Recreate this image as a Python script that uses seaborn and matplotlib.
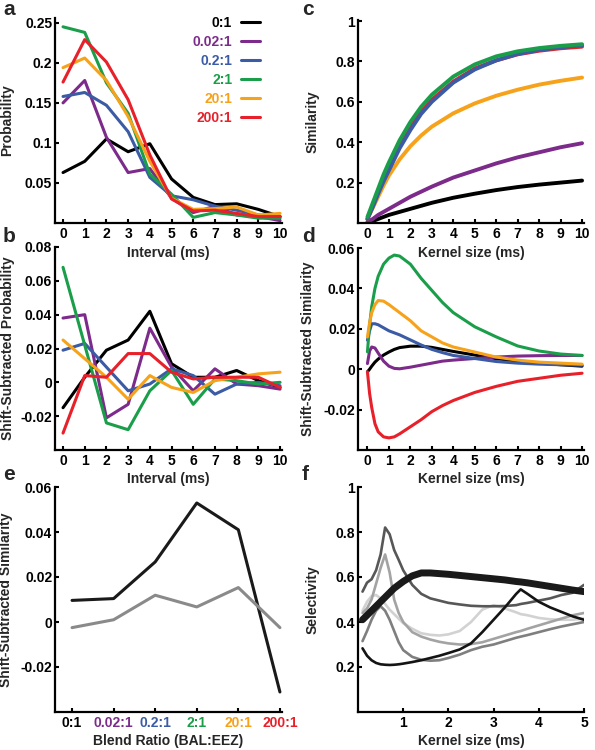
#!/usr/bin/env python

import matplotlib
matplotlib.use('Agg')
import matplotlib.pyplot as plt
import seaborn as sns

# Blend ratios (BAL:EEZ) and their colours
RATIOS = ['0:1', '0.02:1', '0.2:1', '2:1', '20:1', '200:1']
RATIO_COLORS = ['#000000', '#7d2b8b', '#3b5ba5', '#1a9e4a', '#f7a21b', '#e8202a']

# a: interval probability
INTERVALS = [0, 1, 2, 3, 4, 5, 6, 7, 8, 9, 10]
PROB_0 = [0.063, 0.077, 0.105, 0.089, 0.099, 0.055, 0.032, 0.023, 0.024, 0.017, 0.008]
PROB_002 = [0.150, 0.178, 0.107, 0.063, 0.068, 0.031, 0.013, 0.021, 0.010, 0.008, 0.003]
PROB_02 = [0.158, 0.163, 0.147, 0.114, 0.057, 0.034, 0.029, 0.021, 0.016, 0.010, 0.008]
PROB_2 = [0.245, 0.238, 0.175, 0.137, 0.061, 0.036, 0.007, 0.013, 0.010, 0.006, 0.006]
PROB_20 = [0.194, 0.206, 0.178, 0.133, 0.077, 0.031, 0.017, 0.018, 0.020, 0.010, 0.012]
PROB_200 = [0.176, 0.229, 0.201, 0.154, 0.085, 0.030, 0.015, 0.016, 0.012, 0.008, 0.008]

# b: shift-subtracted probability
SSP_0 = [-0.015, 0.003, 0.019, 0.025, 0.042, 0.011, 0.003, 0.003, 0.007, 0.001, -0.003]
SSP_002 = [0.038, 0.040, -0.021, -0.013, 0.032, 0.009, -0.005, 0.008, -0.001, -0.002, -0.004]
SSP_02 = [0.019, 0.023, 0.009, -0.005, -0.001, 0.008, 0.004, -0.007, -0.001, 0.000, -0.002]
SSP_2 = [0.068, 0.022, -0.024, -0.028, -0.005, 0.007, -0.013, 0.002, 0.001, -0.001, 0.000]
SSP_20 = [0.025, 0.014, 0.003, -0.010, 0.004, -0.003, -0.006, 0.001, 0.003, 0.005, 0.006]
SSP_200 = [-0.030, 0.004, 0.003, 0.017, 0.017, 0.006, 0.002, 0.003, 0.003, 0.003, -0.003]

# c: similarity vs kernel size
KERNEL = [0, 0.25, 0.5, 0.75, 1, 1.5, 2, 2.5, 3, 4, 5, 6, 7, 8, 9, 10]
SIM_0 = [0.0, 0.01, 0.02, 0.03, 0.04, 0.055, 0.07, 0.085, 0.10, 0.125, 0.145, 0.163, 0.178, 0.19, 0.20, 0.21]
SIM_002 = [0.005, 0.02, 0.04, 0.055, 0.07, 0.10, 0.13, 0.155, 0.18, 0.225, 0.26, 0.295, 0.325, 0.35, 0.375, 0.395]
SIM_02 = [0.02, 0.08, 0.145, 0.205, 0.26, 0.37, 0.46, 0.54, 0.60, 0.695, 0.76, 0.805, 0.837, 0.857, 0.87, 0.88]
SIM_2 = [0.03, 0.10, 0.17, 0.24, 0.30, 0.41, 0.50, 0.575, 0.635, 0.725, 0.785, 0.825, 0.85, 0.866, 0.877, 0.885]
SIM_20 = [0.02, 0.075, 0.13, 0.185, 0.235, 0.315, 0.38, 0.433, 0.477, 0.543, 0.592, 0.63, 0.66, 0.685, 0.704, 0.72]
SIM_200 = [0.02, 0.085, 0.155, 0.215, 0.275, 0.385, 0.475, 0.55, 0.61, 0.70, 0.765, 0.805, 0.835, 0.853, 0.865, 0.873]

# d: shift-subtracted similarity vs kernel size
KERNEL_D = [0, 0.1, 0.2, 0.35, 0.5, 0.75, 1, 1.25, 1.5, 2, 2.5, 3, 3.5, 4, 5, 6, 7, 8, 9, 10]
SSS_0 = [-0.0013, 0.0, 0.0015, 0.0035, 0.005, 0.007, 0.0085, 0.0098, 0.0107, 0.0114, 0.0114, 0.0108,
         0.0098, 0.0088, 0.007, 0.0052, 0.004, 0.003, 0.0022, 0.0015]
SSS_002 = [0.0028, 0.009, 0.011, 0.0105, 0.008, 0.004, 0.0015, 0.0004, 0.0002, 0.001, 0.002, 0.003,
           0.004, 0.0045, 0.0053, 0.006, 0.0065, 0.0067, 0.0068, 0.0068]
SSS_02 = [0.0144, 0.019, 0.0225, 0.0225, 0.022, 0.0205, 0.019, 0.018, 0.017, 0.0145, 0.012, 0.0098,
          0.0082, 0.0068, 0.0053, 0.0038, 0.003, 0.0025, 0.0022, 0.002]
SSS_2 = [0.0086, 0.022, 0.031, 0.040, 0.046, 0.052, 0.055, 0.0565, 0.056, 0.052, 0.045, 0.039,
         0.033, 0.028, 0.021, 0.016, 0.0115, 0.009, 0.0075, 0.0068]
SSS_20 = [0.016, 0.023, 0.028, 0.032, 0.034, 0.0337, 0.032, 0.030, 0.028, 0.024, 0.019, 0.016,
          0.013, 0.011, 0.0085, 0.006, 0.0045, 0.0035, 0.003, 0.0025]
SSS_200 = [-0.0013, -0.012, -0.019, -0.027, -0.031, -0.0335, -0.034, -0.0335, -0.032, -0.0285, -0.025,
           -0.021, -0.018, -0.0155, -0.0115, -0.0085, -0.006, -0.0045, -0.003, -0.002]

# e: shift-subtracted similarity by blend ratio
BLEND_BLACK = [0.0096, 0.0104, 0.0267, 0.0529, 0.041, -0.0311]
BLEND_GRAY = [-0.0025, 0.001, 0.0119, 0.0067, 0.0153, -0.0025]

# f: selectivity vs kernel size
KERNEL_F = [0.1, 0.2, 0.3, 0.4, 0.5, 0.6, 0.7, 0.8, 0.9, 1.0, 1.2, 1.4, 1.6, 1.8, 2.0, 2.25,
            2.5, 2.75, 3.0, 3.25, 3.5, 3.6, 3.75, 4.0, 4.25, 4.5, 4.75, 5.0]
SEL_THICK = [0.41, 0.43, 0.45, 0.47, 0.49, 0.51, 0.53, 0.55, 0.565, 0.58, 0.605, 0.618, 0.618, 0.615,
             0.612, 0.607, 0.602, 0.597, 0.592, 0.587, 0.58, 0.578, 0.574, 0.566, 0.558, 0.55, 0.542, 0.535]
SEL_DARK = [0.535, 0.575, 0.59, 0.63, 0.70, 0.82, 0.79, 0.72, 0.676, 0.63, 0.565, 0.525, 0.505, 0.495,
            0.485, 0.478, 0.472, 0.47, 0.47, 0.471, 0.475, 0.48, 0.485, 0.495, 0.505, 0.52, 0.53, 0.565]
SEL_MID = [0.44, 0.46, 0.50, 0.57, 0.64, 0.70, 0.62, 0.50, 0.44, 0.40, 0.355, 0.335, 0.322, 0.312,
           0.305, 0.30, 0.302, 0.31, 0.325, 0.34, 0.355, 0.36, 0.37, 0.385, 0.40, 0.415, 0.43, 0.44]
SEL_LIGHT = [0.45, 0.49, 0.515, 0.52, 0.505, 0.48, 0.455, 0.435, 0.415, 0.395, 0.37, 0.35, 0.343, 0.34,
             0.345, 0.36, 0.40, 0.455, 0.475, 0.46, 0.443, 0.435, 0.43, 0.418, 0.412, 0.41, 0.41, 0.415]
SEL_GRAY = [0.315, 0.36, 0.41, 0.45, 0.47, 0.45, 0.41, 0.36, 0.31, 0.275, 0.245, 0.232, 0.228, 0.23,
            0.24, 0.255, 0.275, 0.29, 0.30, 0.315, 0.33, 0.335, 0.342, 0.355, 0.368, 0.38, 0.39, 0.40]
SEL_BLACK = [0.283, 0.25, 0.23, 0.218, 0.212, 0.21, 0.209, 0.21, 0.212, 0.215, 0.222, 0.23, 0.24, 0.25,
             0.262, 0.278, 0.305, 0.355, 0.41, 0.465, 0.525, 0.545, 0.525, 0.49, 0.465, 0.445, 0.425, 0.41]

W, H = 595.0, 750.0
FS = 10


def make_axes(fig, left, right, top, bottom):
    """Add axes from pixel edges."""
    ax = fig.add_axes([left / W, 1 - bottom / H, (right - left) / W, (bottom - top) / H])
    ax.set_facecolor('none')
    sns.despine(ax=ax)
    ax.tick_params(direction='in', length=3, width=1.5, labelsize=FS, pad=3)
    ax.tick_params(axis='y', pad=2)
    return ax


def ratio_lines(ax, x, series, lw, label=False, order=range(6)):
    for i in order:
        sns.lineplot(x=x, y=series[i], color=RATIO_COLORS[i], lw=lw, ax=ax, sort=False,
                     estimator=None, label=RATIOS[i] if label else None)


def main():
    sns.set_style('ticks')
    plt.rcParams['font.family'] = ['Liberation Sans', 'DejaVu Sans']
    plt.rcParams['font.weight'] = 'bold'
    plt.rcParams['axes.labelweight'] = 'bold'
    plt.rcParams['axes.linewidth'] = 1.6
    plt.rcParams['axes.edgecolor'] = 'black'
    plt.rcParams['xtick.color'] = 'black'
    plt.rcParams['ytick.color'] = 'black'

    fig = plt.figure(figsize=(W / 100, H / 100), dpi=100)

    # a
    ax = make_axes(fig, 55, 282, 18, 223)
    ratio_lines(ax, INTERVALS, [PROB_0, PROB_002, PROB_02, PROB_2, PROB_20, PROB_200],
                2.2, label=True)
    ax.set_xlim(-0.37, 10.09)
    ax.set_ylim(0, 0.256)
    ax.set_xticks(INTERVALS)
    ax.set_yticks([0.05, 0.1, 0.15, 0.2, 0.25], ['0.05', '0.1', '0.15', '0.2', '0.25'])
    ax.set_xlabel('Interval (ms)', fontsize=FS)
    ax.set_ylabel('Probability', fontsize=FS)
    ax.xaxis.set_label_coords(0.5, -0.112)
    ax.yaxis.set_label_coords(-0.178, 0.5)
    ax.legend(loc='upper right', bbox_to_anchor=(0.903, 1.01), frameon=False,
              markerfirst=False, labelcolor='linecolor', handlelength=1.4,
              handletextpad=0.6, labelspacing=0.36, borderpad=0, borderaxespad=0,
              prop={'weight': 'bold', 'size': FS})

    # b
    ax = make_axes(fig, 55, 282, 247, 450)
    ratio_lines(ax, INTERVALS, [SSP_0, SSP_002, SSP_02, SSP_2, SSP_20, SSP_200], 2.2)
    ax.set_xlim(-0.37, 10.09)
    ax.set_ylim(-0.04, 0.08)
    ax.set_xticks(INTERVALS)
    ax.set_yticks([-0.02, 0, 0.02, 0.04, 0.06, 0.08],
                  ['-0.02', '0', '0.02', '0.04', '0.06', '0.08'])
    ax.set_xlabel('Interval (ms)', fontsize=FS)
    ax.set_ylabel('Shift-Subtracted Probability', fontsize=FS)
    ax.xaxis.set_label_coords(0.5, -0.108)
    ax.yaxis.set_label_coords(-0.178, 0.5)

    # c
    ax = make_axes(fig, 358, 584, 20, 223)
    ratio_lines(ax, KERNEL, [SIM_0, SIM_002, SIM_02, SIM_2, SIM_20, SIM_200], 2.8,
                order=[0, 1, 4, 5, 2, 3])
    ax.set_xlim(-0.44, 10.09)
    ax.set_ylim(0, 1.005)
    ax.set_xticks(INTERVALS)
    ax.set_yticks([0.2, 0.4, 0.6, 0.8, 1.0], ['0.2', '0.4', '0.6', '0.8', '1'])
    ax.set_xlabel('Kernel size (ms)', fontsize=FS)
    ax.set_ylabel('Similarity', fontsize=FS)
    ax.xaxis.set_label_coords(0.5, -0.112)
    ax.yaxis.set_label_coords(-0.17, 0.5)

    # d
    ax = make_axes(fig, 358, 584, 248, 450)
    ratio_lines(ax, KERNEL_D, [SSS_0, SSS_002, SSS_02, SSS_2, SSS_20, SSS_200], 2.2)
    ax.set_xlim(-0.44, 10.09)
    ax.set_ylim(-0.04, 0.06)
    ax.set_xticks(INTERVALS)
    ax.set_yticks([-0.02, 0, 0.02, 0.04, 0.06], ['-0.02', '0', '0.02', '0.04', '0.06'])
    ax.set_xlabel('Kernel size (ms)', fontsize=FS)
    ax.set_ylabel('Shift-Subtracted Similarity', fontsize=FS)
    ax.xaxis.set_label_coords(0.5, -0.108)
    ax.yaxis.set_label_coords(-0.192, 0.5)

    # e
    ax = make_axes(fig, 55, 282, 487, 712)
    sns.lineplot(x=RATIOS, y=BLEND_BLACK, color='#1a1a1a', lw=2.2, ax=ax, sort=False)
    sns.lineplot(x=RATIOS, y=BLEND_GRAY, color='#8a8a8a', lw=2.2, ax=ax, sort=False)
    ax.set_xlim(-0.41, 5.05)
    ax.set_ylim(-0.04, 0.06)
    ax.set_yticks([-0.02, 0, 0.02, 0.04, 0.06], ['-0.02', '0', '0.02', '0.04', '0.06'])
    for lbl, color in zip(ax.get_xticklabels(), RATIO_COLORS):
        lbl.set_color(color)
    ax.set_xlabel('Blend Ratio (BAL:EEZ)', fontsize=FS)
    ax.set_ylabel('Shift-Subtracted Similarity', fontsize=FS)
    ax.xaxis.set_label_coords(0.5, -0.098)
    ax.yaxis.set_label_coords(-0.183, 0.5)

    # f
    ax = make_axes(fig, 358, 584, 487, 712)
    for ys, color, lw in [(SEL_LIGHT, '#d2d2d2', 1.9), (SEL_MID, '#a3a3a3', 1.9),
                          (SEL_GRAY, '#7f7f7f', 1.9), (SEL_DARK, '#575757', 1.9),
                          (SEL_BLACK, '#141414', 1.9), (SEL_THICK, '#1a1a1a', 5.0)]:
        sns.lineplot(x=KERNEL_F, y=ys, color=color, lw=lw, ax=ax, sort=False)
    ax.set_xlim(0, 5)
    ax.set_ylim(0, 1)
    ax.set_xticks([1, 2, 3, 4, 5])
    ax.set_yticks([0.2, 0.4, 0.6, 0.8, 1.0], ['0.2', '0.4', '0.6', '0.8', '1'])
    ax.set_xlabel('Kernel size (ms)', fontsize=FS)
    ax.set_ylabel('Selectivity', fontsize=FS)
    ax.xaxis.set_label_coords(0.5, -0.098)
    ax.yaxis.set_label_coords(-0.17, 0.5)

    # panel letters
    for letter, x, y in [('a', 3, 15), ('b', 3, 242), ('c', 302, 15),
                         ('d', 302, 242), ('e', 3, 480), ('f', 302, 480)]:
        fig.text(x / W, 1 - y / H, letter, fontsize=15, fontweight='bold',
                 va='baseline', ha='left')

    fig.savefig('out.png', dpi=100)


if __name__ == '__main__':
    main()
